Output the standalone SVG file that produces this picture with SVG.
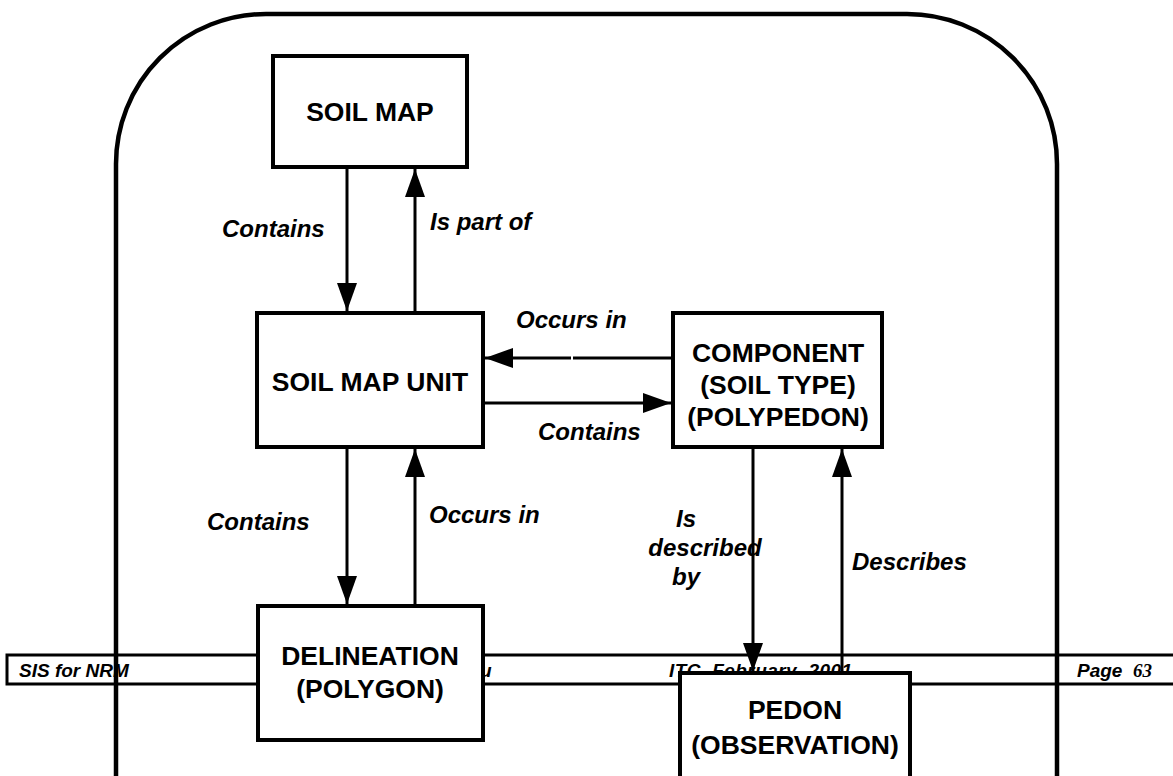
<svg xmlns="http://www.w3.org/2000/svg" width="1173" height="776" viewBox="0 0 1173 776">
  <style>
    .box { fill: #fff; stroke: #000; stroke-width: 4; }
    .node { font-family: "Liberation Sans", Arial, sans-serif; font-weight: bold; font-size: 26.5px; text-anchor: middle; fill: #000; }
    .lbl { font-family: "Liberation Sans", Arial, sans-serif; font-weight: bold; font-style: italic; font-size: 24px; fill: #000; }
    .foot { font-family: "Liberation Sans", Arial, sans-serif; font-weight: bold; font-style: italic; font-size: 19px; fill: #000; white-space: pre; }
    .conn { stroke: #000; stroke-width: 3; fill: none; marker-end: url(#head); }
  </style>
  <defs>
    <marker id="head" viewBox="0 0 28 20" refX="28" refY="10" markerWidth="28" markerHeight="20" markerUnits="userSpaceOnUse" orient="auto">
      <path d="M0,0 L28,10 L0,20 Z" fill="#000"/>
    </marker>
  </defs>
  <rect width="1173" height="776" fill="#fff"/>

  <!-- page footer band -->
  <g id="footer">
    <path d="M1173,655 H7 V684 H1173" fill="none" stroke="#000" stroke-width="3"/>
    <text class="foot" x="19" y="677">SIS for NRM</text>
    <text class="foot" x="480" y="677">u</text>
    <text class="foot" x="669" y="677" textLength="183" lengthAdjust="spacing" xml:space="preserve">ITC  February  2001</text>
    <text class="foot" x="1077" y="677" xml:space="preserve">Page  <tspan font-family="'Liberation Serif', 'Times New Roman', serif">63</tspan></text>
  </g>

  <!-- outer rounded frame -->
  <g id="frame">
    <path d="M116,790 V164 A150,150 0 0 1 266,14 H907 A150,150 0 0 1 1057,164 V790" fill="none" stroke="#000" stroke-width="4.5"/>
  </g>

  <g id="connectors">
    <line class="conn" x1="347" y1="169" x2="347" y2="311"/>
    <line class="conn" x1="415" y1="311" x2="415" y2="169"/>
    <line class="conn" x1="347" y1="449" x2="347" y2="604"/>
    <line class="conn" x1="415" y1="604" x2="415" y2="449"/>
    <line x1="671" y1="358" x2="573" y2="358" stroke="#000" stroke-width="3"/>
    <line class="conn" x1="571" y1="358" x2="485" y2="358"/>
    <line class="conn" x1="485" y1="403" x2="671" y2="403"/>
    <line class="conn" x1="753" y1="449" x2="753" y2="671"/>
    <line class="conn" x1="842" y1="671" x2="842" y2="449"/>
    <text class="lbl" x="222" y="237">Contains</text>
    <text class="lbl" x="430" y="230">Is part of</text>
    <text class="lbl" x="516" y="328">Occurs in</text>
    <text class="lbl" x="538" y="440">Contains</text>
    <text class="lbl" x="207" y="530">Contains</text>
    <text class="lbl" x="429" y="523">Occurs in</text>
    <text class="lbl" x="852" y="570">Describes</text>
    <text class="lbl" x="686" y="527" text-anchor="middle">Is</text>
    <text class="lbl" x="705" y="556" text-anchor="middle">described</text>
    <text class="lbl" x="686" y="585" text-anchor="middle">by</text>
  </g>

  <g id="soil-map">
    <rect class="box" x="273" y="56" width="194" height="111"/>
    <text class="node" x="370" y="121">SOIL MAP</text>
  </g>
  <g id="soil-map-unit">
    <rect class="box" x="257" y="313" width="226" height="134"/>
    <text class="node" x="370" y="391">SOIL MAP UNIT</text>
  </g>
  <g id="component">
    <rect class="box" x="673" y="313" width="209" height="134"/>
    <text class="node" x="778" y="362">COMPONENT</text>
    <text class="node" x="778" y="394">(SOIL TYPE)</text>
    <text class="node" x="778" y="426">(POLYPEDON)</text>
  </g>
  <g id="delineation">
    <rect class="box" x="258" y="606" width="225" height="134"/>
    <text class="node" x="370" y="665">DELINEATION</text>
    <text class="node" x="370" y="698">(POLYGON)</text>
  </g>
  <g id="pedon">
    <rect class="box" x="680" y="673" width="230" height="130"/>
    <text class="node" x="795" y="719">PEDON</text>
    <text class="node" x="795" y="754">(OBSERVATION)</text>
  </g>
</svg>
